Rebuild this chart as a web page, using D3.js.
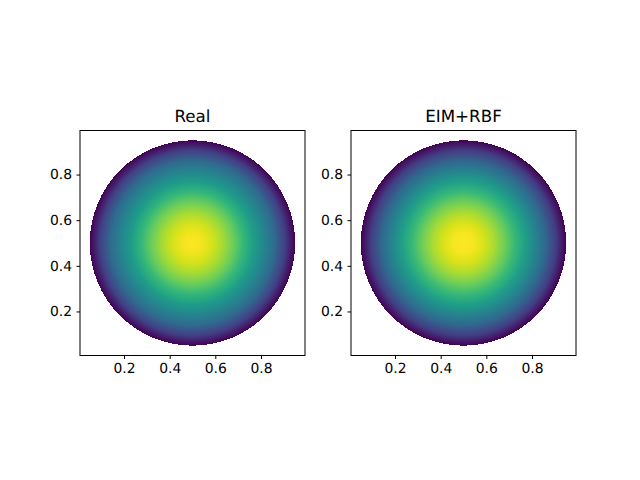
<!DOCTYPE html>
<html><head><meta charset="utf-8">
<style>html,body{margin:0;padding:0;background:#fff}svg{display:block}text{font-family:"DejaVu Sans",sans-serif;fill:#000;text-rendering:geometricPrecision}</style>
<script src="https://cdn.jsdelivr.net/npm/d3@7"></script></head>
<body><script>
const panelTitles = ["Real", "EIM+RBF"];
const tickValues = [0.2, 0.4, 0.6, 0.8];
const xDomain = [0.007, 0.993];
const yDomain = [0.007, 0.993];
const center = [0.5, 0.5];
const discRadius = 0.45;
const radialFraction = [0, .1, .2, .3, .4, .5, .6, .7, .8, .9, 1];
const realValues = [1, .98, .93, .86, .77, .66, .55, .45, .34, .19, 0];
const approxValues = [1, .985, .94, .87, .78, .67, .56, .45, .33, .18, 0];
const panelLefts = [80, 351];
const panelTop = 130.5, size = 225;

const svg = d3.select("body").append("svg").attr("width", 640).attr("height", 480);
const defs = svg.append("defs");
panelTitles.forEach((title, i) => {
  const vals = i === 0 ? realValues : approxValues;
  const x = d3.scaleLinear().domain(xDomain).range([0, size]);
  const y = d3.scaleLinear().domain(yDomain).range([size, 0]);
  const id = "g" + i;
  const grad = defs.append("radialGradient").attr("id", id);
  grad.selectAll("stop").data(radialFraction).join("stop")
    .attr("offset", d => d)
    .attr("stop-color", (d, k) => d3.interpolateViridis(vals[k]));
  const g = svg.append("g").attr("transform", `translate(${panelLefts[i]},${panelTop})`);
  g.append("circle")
    .attr("cx", x(center[0])).attr("cy", y(center[1]))
    .attr("r", x(center[0] + discRadius) - x(center[0]))
    .attr("fill", `url(#${id})`).attr("shape-rendering", "crispEdges");
  g.append("rect").attr("width", size).attr("height", size)
    .attr("fill", "none").attr("stroke", "#000").attr("stroke-width", 1);
  const ax = g.append("g").attr("transform", `translate(0,${size})`)
    .call(d3.axisBottom(x).tickValues(tickValues).tickSize(3.5).tickPadding(4.5).tickFormat(d3.format(".1f")));
  const ay = g.append("g")
    .call(d3.axisLeft(y).tickValues(tickValues).tickSize(3.5).tickPadding(4.5).tickFormat(d3.format(".1f")));
  [ax, ay].forEach(a => {
    a.select(".domain").remove();
    a.selectAll("text").attr("font-size", 13.9).style("font-family", '"DejaVu Sans"');
  });
  g.append("text").attr("x", size / 2).attr("y", -9).attr("text-anchor", "middle")
    .attr("font-size", 16.7).text(title);
});
</script></body></html>
